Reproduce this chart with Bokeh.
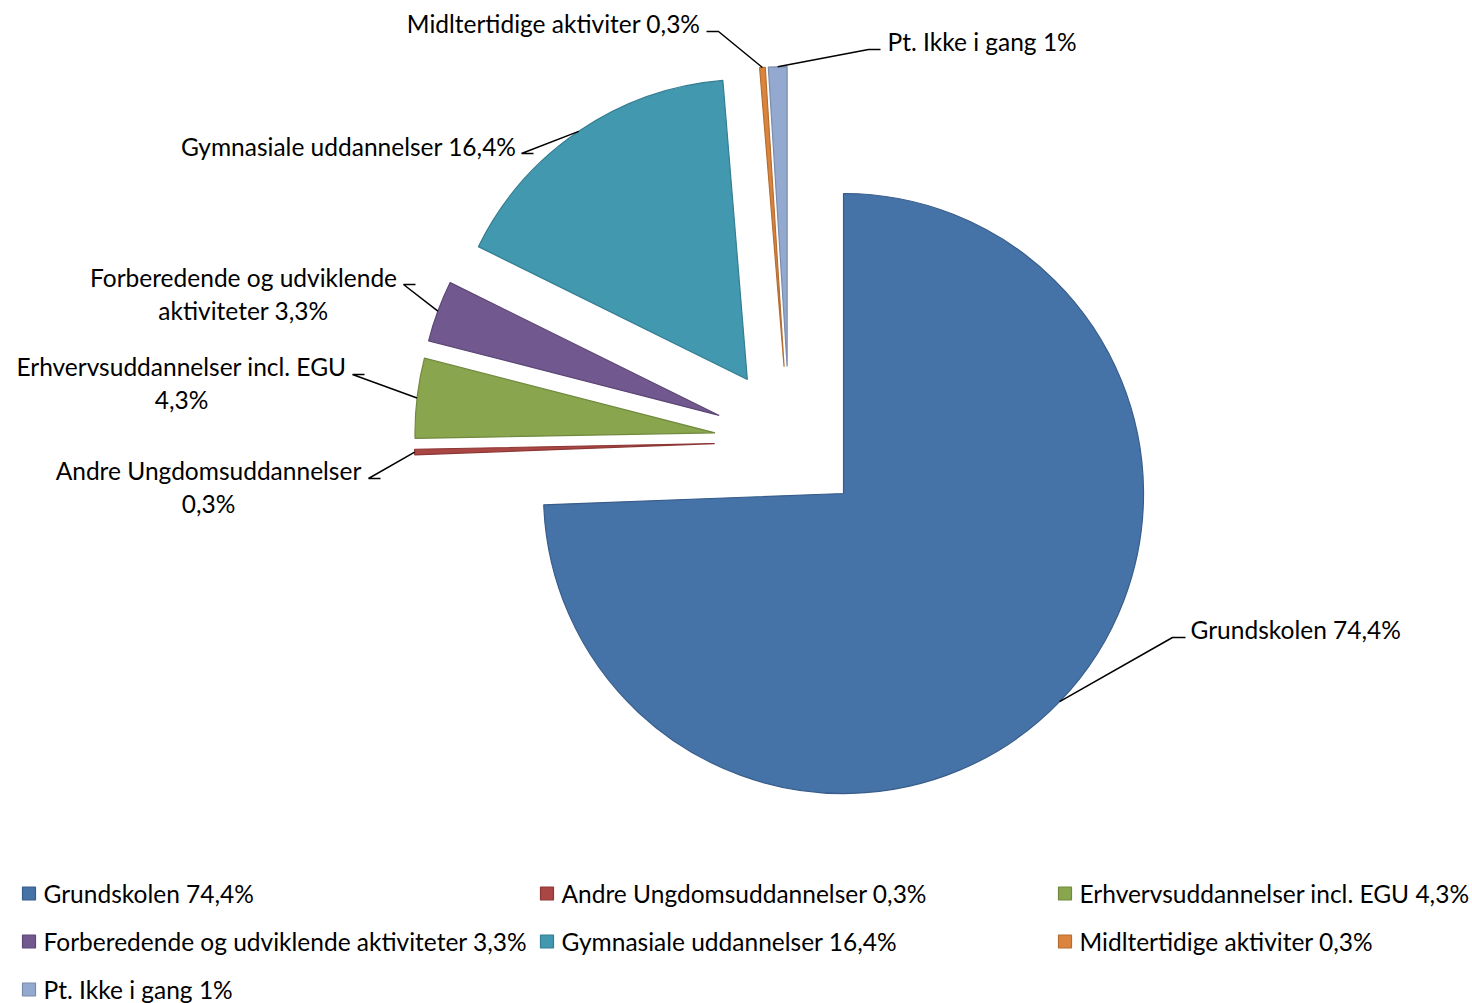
import numpy as np
from bokeh.plotting import figure
from bokeh.models import Range1d
from bokeh.core.properties import value
from bokeh.embed import file_html
from bokeh.resources import INLINE

# ---- data ----
categories = ["Grundskolen", "Andre Ungdomsuddannelser", "Erhvervsuddannelser incl. EGU",
              "Forberedende og udviklende aktiviteter", "Gymnasiale uddannelser",
              "Midltertidige aktiviter", "Pt. Ikke i gang"]
values = [74.4, 0.3, 4.3, 3.3, 16.4, 0.3, 1.0]
value_labels = ["74,4%", "0,3%", "4,3%", "3,3%", "16,4%", "0,3%", "1%"]
fill_colors = ["#4572A7", "#AA4643", "#89A54E", "#71588F", "#4198AF", "#DB843D", "#93A9CF"]
line_colors = ["#385D8A", "#8C3836", "#71893F", "#5C4776", "#357D91", "#B66D31", "#7A8BAA"]

# label line breaks as in the chart
slice_label_lines = [
    ["Grundskolen 74,4%"],
    ["Andre Ungdomsuddannelser", "0,3%"],
    ["Erhvervsuddannelser incl. EGU", "4,3%"],
    ["Forberedende og udviklende", "aktiviteter 3,3%"],
    ["Gymnasiale uddannelser 16,4%"],
    ["Midltertidige aktiviter 0,3%"],
    ["Pt. Ikke i gang 1%"],
]

# ---- layout (screen pixel coordinates, y downward) ----
W, H = 1472, 1003
FONT = "Lato"
FS = "24.5px"
def fy(y):  # screen y -> data y
    return 1003 - y

CX, CY = 789, 441
R = 300
EXPLODE = 0.25 * R

# label anchor: x, y (first line), align
label_pos = [(1190, 629, "left"), (208, 470, "center"), (181, 366, "center"),
             (243, 277, "center"), (516, 146, "right"), (700, 23, "right"), (887, 41, "left")]
# leader horizontal segment: x near label, elbow x, y
leader_h = [(1185, 1172, 637), (380, 368, 478), (364, 352, 374), (415, 403, 284),
            (533, 521, 153), (706, 718, 31), (880, 868, 49)]
LINE_SP = 33

p = figure(width=W, height=H, output_backend="svg", toolbar_location=None,
           x_range=Range1d(0, W), y_range=Range1d(fy(H), fy(0)),
           min_border=0, outline_line_color=None)
p.axis.visible = False
p.grid.visible = False
p.background_fill_color = "white"
p.border_fill_color = "white"

total = sum(values)
cum = np.concatenate([[0], np.cumsum(values)]) / total
a0 = np.pi / 2 - 2 * np.pi * cum[:-1]
a1 = np.pi / 2 - 2 * np.pi * cum[1:]
am = (a0 + a1) / 2
xs_c = CX + EXPLODE * np.cos(am)
ys_c = fy(CY) + EXPLODE * np.sin(am)

p.wedge(x=list(xs_c), y=list(ys_c), radius=R, start_angle=list(a0), end_angle=list(a1),
        direction="clock", fill_color=fill_colors, line_color=line_colors, line_width=1.2)

# leader lines
lx, ly = [], []
for i in range(len(values)):
    axp = xs_c[i] + R * np.cos(am[i])
    ayp = ys_c[i] + R * np.sin(am[i])
    hx0, hx1, hy = leader_h[i]
    lx.append([hx0, hx1, axp])
    ly.append([fy(hy), fy(hy), ayp])
p.multi_line(xs=lx, ys=ly, line_color="black", line_width=1.5)

# slice labels
for i, lines in enumerate(slice_label_lines):
    x0, y0, al = label_pos[i]
    for k, t in enumerate(lines):
        p.text(x=[x0], y=[fy(y0 + k * LINE_SP)], text=[t], text_align=al,
               text_baseline="middle", text_font=value(FONT), text_font_size=FS,
               text_color="black")

# legend (3 columns, row-major)
leg_cols = [22, 540, 1058]
leg_rows = [893, 941, 989]
for i, cat in enumerate(categories):
    r, c = divmod(i, 3)
    x = leg_cols[c]
    y = leg_rows[r]
    p.rect(x=[x + 6.5], y=[fy(y)], width=13, height=13, fill_color=fill_colors[i],
           line_color=line_colors[i], line_width=1.2)
    p.text(x=[x + 21], y=[fy(y)], text=[f"{cat} {value_labels[i]}"], text_align="left",
           text_baseline="middle", text_font=value(FONT), text_font_size=FS,
           text_color="black")

open("out.html", "w").write(file_html(p, INLINE))
